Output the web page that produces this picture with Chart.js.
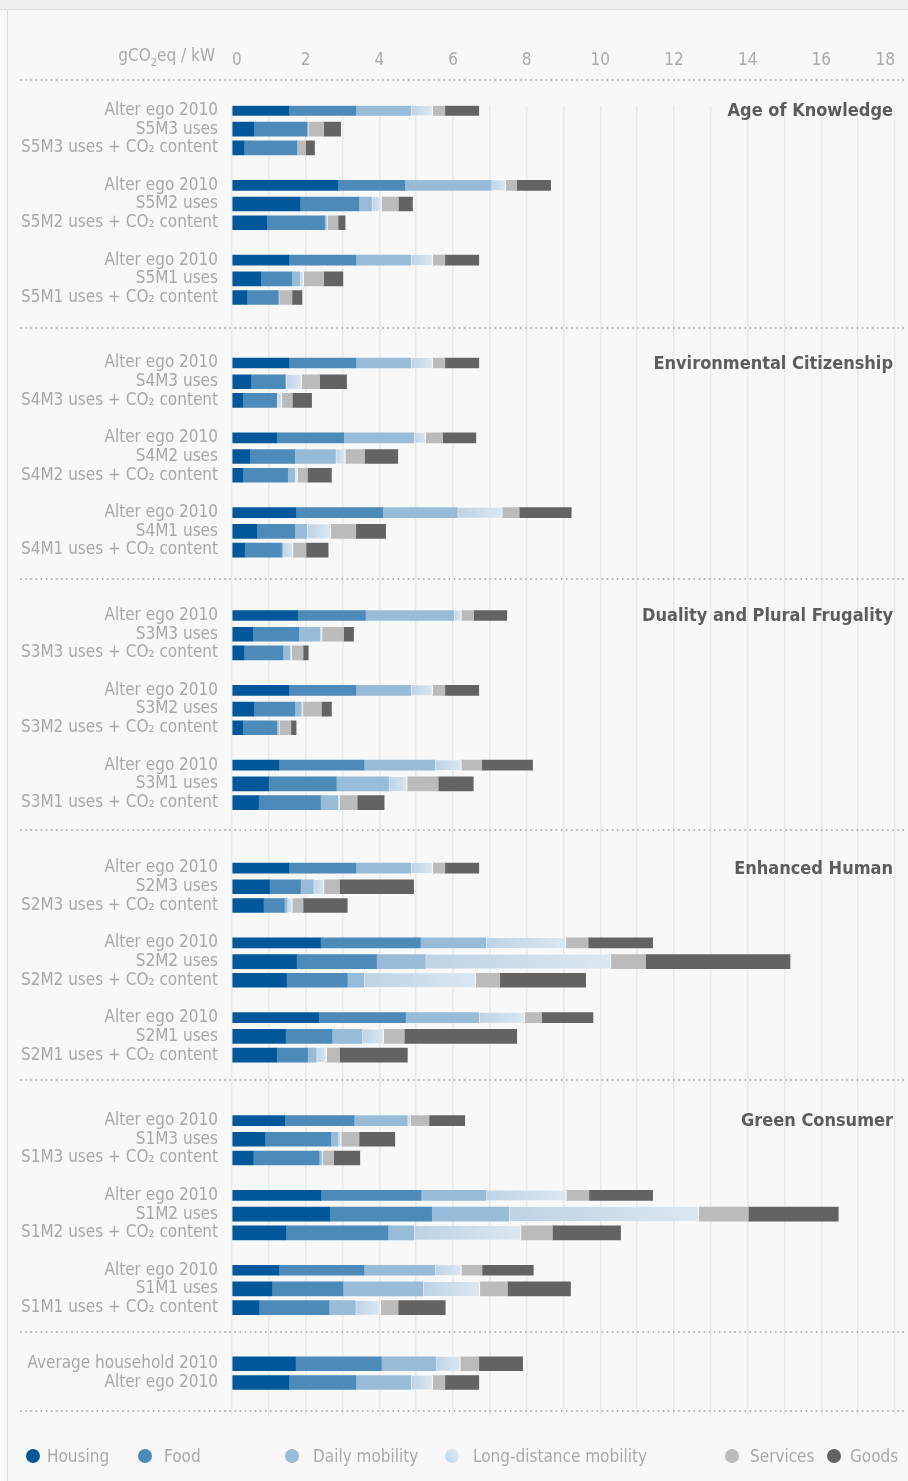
<!DOCTYPE html>
<html>
<head>
<meta charset="utf-8">
<script src="https://cdn.jsdelivr.net/npm/chart.js@4.4.1/dist/chart.umd.min.js"></script>
<style>
html,body{margin:0;padding:0;background:#f8f8f8;}
#wrap{position:relative;width:908px;height:1481px;overflow:hidden;background:#f8f8f8;}
#topband{position:absolute;left:0;top:0;width:908px;height:9px;background:#efefef;border-bottom:1px solid #dcdcdc;}
#leftline{position:absolute;left:7px;top:10px;width:1px;height:1471px;background:#dcdcdc;}
canvas{position:absolute;left:0;top:0;}
.lg{position:absolute;height:22px;line-height:22px;font-size:17px;color:#a9a9a9;white-space:nowrap;}
.dot{position:absolute;width:14px;height:14px;border-radius:50%;}
</style>
</head>
<body>
<div id="wrap">
  <div id="topband"></div>
  <div id="leftline"></div>
  <canvas id="c" width="908" height="1481"></canvas>
  <div id="legend"></div>
</div>
<script>
// ---------- DATA ----------
const categories = [
  'Alter ego 2010','S5M3 uses','S5M3 uses + CO\u2082 content',
  'Alter ego 2010','S5M2 uses','S5M2 uses + CO\u2082 content',
  'Alter ego 2010','S5M1 uses','S5M1 uses + CO\u2082 content',
  'Alter ego 2010','S4M3 uses','S4M3 uses + CO\u2082 content',
  'Alter ego 2010','S4M2 uses','S4M2 uses + CO\u2082 content',
  'Alter ego 2010','S4M1 uses','S4M1 uses + CO\u2082 content',
  'Alter ego 2010','S3M3 uses','S3M3 uses + CO\u2082 content',
  'Alter ego 2010','S3M2 uses','S3M2 uses + CO\u2082 content',
  'Alter ego 2010','S3M1 uses','S3M1 uses + CO\u2082 content',
  'Alter ego 2010','S2M3 uses','S2M3 uses + CO\u2082 content',
  'Alter ego 2010','S2M2 uses','S2M2 uses + CO\u2082 content',
  'Alter ego 2010','S2M1 uses','S2M1 uses + CO\u2082 content',
  'Alter ego 2010','S1M3 uses','S1M3 uses + CO\u2082 content',
  'Alter ego 2010','S1M2 uses','S1M2 uses + CO\u2082 content',
  'Alter ego 2010','S1M1 uses','S1M1 uses + CO\u2082 content',
  'Average household 2010','Alter ego 2010'
];
const housing = [
  1.54,0.59,0.32, 2.87,1.84,0.94, 1.54,0.78,0.40,
  1.54,0.51,0.29, 1.21,0.48,0.29, 1.73,0.67,0.34,
  1.78,0.56,0.32, 1.54,0.59,0.29, 1.27,0.99,0.72,
  1.54,1.02,0.85, 2.40,1.75,1.48, 2.35,1.45,1.21,
  1.43,0.89,0.57, 2.41,2.65,1.46, 1.27,1.08,0.73,
  1.72,1.54
];
const food = [
  1.82,1.44,1.44, 1.82,1.60,1.57, 1.82,0.84,0.85,
  1.82,0.93,0.92, 1.82,1.22,1.22, 2.36,1.03,1.00,
  1.84,1.25,1.06, 1.82,1.11,0.92, 2.31,1.84,1.68,
  1.82,0.84,0.57, 2.71,2.17,1.65, 2.36,1.26,0.84,
  1.88,1.79,1.79, 2.72,2.77,2.77, 2.31,1.93,1.90,
  2.33,1.82
];
const dailyMobility = [
  1.49,0.03,0.01, 2.35,0.35,0.05, 1.49,0.22,0.03,
  1.49,0.02,0.01, 1.90,1.11,0.19, 2.03,0.33,0.05,
  2.40,0.58,0.19, 1.49,0.18,0.05, 1.93,1.42,0.47,
  1.49,0.35,0.08, 1.78,1.33,0.45, 1.99,0.82,0.24,
  1.45,0.20,0.07, 1.77,2.09,0.70, 1.93,2.17,0.72,
  1.49,1.49
];
const longDistanceMobility = [
  0.60,0.02,0.01, 0.39,0.27,0.04, 0.60,0.11,0.02,
  0.60,0.43,0.14, 0.33,0.27,0.08, 1.22,0.65,0.27,
  0.21,0.06,0.05, 0.60,0.05,0.03, 0.72,0.51,0.05,
  0.60,0.29,0.14, 2.18,5.04,3.04, 1.25,0.59,0.28,
  0.09,0.09,0.04, 2.18,5.16,2.92, 0.72,1.55,0.69,
  0.66,0.60
];
const services = [
  0.33,0.41,0.22, 0.30,0.46,0.28, 0.33,0.54,0.33,
  0.33,0.49,0.28, 0.46,0.52,0.27, 0.46,0.68,0.35,
  0.33,0.58,0.31, 0.33,0.50,0.31, 0.55,0.84,0.48,
  0.33,0.42,0.29, 0.60,0.94,0.65, 0.46,0.56,0.35,
  0.50,0.48,0.29, 0.61,1.35,0.85, 0.56,0.75,0.47,
  0.50,0.33
];
const goods = [
  0.92,0.46,0.24, 0.92,0.38,0.19, 0.92,0.52,0.27,
  0.92,0.73,0.52, 0.90,0.90,0.65, 1.41,0.81,0.60,
  0.90,0.27,0.14, 0.92,0.27,0.14, 1.38,0.95,0.73,
  0.92,2.01,1.20, 1.75,3.92,2.33, 1.39,3.05,1.84,
  0.97,0.97,0.71, 1.73,2.44,1.85, 1.39,1.71,1.28,
  1.19,0.92
];
const sectionTitles = ['Age of Knowledge','Environmental Citizenship','Duality and Plural Frugality','Enhanced Human','Green Consumer'];
const xTickLabels = [0,2,4,6,8,10,12,14,16,18];
const unitLabel = ['gCO','2','eq / kW'];
const legendLabels = ['Housing','Food','Daily mobility','Long-distance mobility','Services','Goods'];

// ---------- LAYOUT / STYLE ----------
const FONT = "'Liberation Sans Narrow','DejaVu Sans Condensed','Roboto',sans-serif";
const COLORS = ['#00589b','#4b8ab9','#98bbd7','#c9dcec','#bbbbbb','#636363'];
const TOTAL_SLOTS = 140;
const TOP = 105.8;
function slotOf(i){
  if (i < 45){ const s=Math.floor(i/9), g=Math.floor((i%9)/3), r=i%3; return 27*s+8*g+2*r; }
  return i===45 ? 134 : 136;
}
const slotLabels = new Array(TOTAL_SLOTS).fill('');
const rowOfSlot = new Array(TOTAL_SLOTS).fill(null);
categories.forEach((c,i)=>{ slotLabels[slotOf(i)] = c; rowOfSlot[slotOf(i)] = i; });
const isThin = categories.map((c,i)=> i<45 && c.startsWith('Alter ego'));
const separatorSlots = [-3.3, 23.25, 50.1, 76.9, 103.7, 130.6, 139.05];

const series = [housing, food, dailyMobility, longDistanceMobility, services, goods];

function ldGradient(c){
  if (c.type !== 'data') return COLORS[3];
  const i = rowOfSlot[c.dataIndex];
  const xs = c.chart.scales && c.chart.scales.x;
  if (i == null || !xs) return COLORS[3];
  const st = housing[i]+food[i]+dailyMobility[i];
  const x0 = xs.getPixelForValue(st), x1 = xs.getPixelForValue(st+longDistanceMobility[i]);
  if (!isFinite(x0) || !isFinite(x1) || x1-x0 < 0.5) return COLORS[3];
  const g = c.chart.ctx.createLinearGradient(x0,0,x1,0);
  g.addColorStop(0,'#bcd3e6'); g.addColorStop(1,'#dce7f0');
  return g;
}

const datasets = [];
series.forEach((vals,k)=>{
  ['thin','thick'].forEach(kind=>{
    const data = new Array(TOTAL_SLOTS).fill(null);
    vals.forEach((v,i)=>{ if ((kind==='thin') === isThin[i]) data[slotOf(i)] = v; });
    const ds = {
      label: legendLabels[k], data, stack: kind, grouped:false,
      barThickness: kind==='thin' ? 10 : 14,
      backgroundColor: k===3 ? ldGradient : COLORS[k],
      borderWidth: 0, skipNull:true
    };
    if (k===3){ ds.borderWidth = {left:1.2,right:1.2,top:0,bottom:0}; ds.borderColor='#f6f8fa'; ds.borderSkipped=false; }
    datasets.push(ds);
  });
});

const overlay = {
  id:'overlay',
  afterDraw(chart){
    const ctx = chart.ctx, ys = chart.scales.y;
    ctx.save();
    ctx.strokeStyle = '#b1b1b1'; ctx.lineWidth = 2; ctx.lineCap = 'round'; ctx.setLineDash([0,5.1]);
    separatorSlots.forEach(s=>{
      const py = Math.round(ys.getPixelForValue(s));
      ctx.beginPath(); ctx.moveTo(21,py); ctx.lineTo(905,py); ctx.stroke();
    });
    ctx.setLineDash([]);
    ctx.fillStyle = '#5c5c5c'; ctx.font = 'bold 18px '+FONT; ctx.textAlign='right'; ctx.textBaseline='middle';
    sectionTitles.forEach((t,s)=> ctx.fillText(t, 893, ys.getPixelForValue(27*s)+1));
    // unit label
    ctx.fillStyle = '#a9a9a9'; ctx.textAlign='left'; ctx.textBaseline='middle';
    const big = '17px '+FONT, small = '11px '+FONT;
    ctx.font = big; const w1 = ctx.measureText(unitLabel[0]).width, w3 = ctx.measureText(unitLabel[2]).width;
    ctx.font = small; const w2 = ctx.measureText(unitLabel[1]).width;
    let x = 215 - (w1+w2+w3); const y = 57;
    ctx.font = big; ctx.fillText(unitLabel[0], x, y); x += w1;
    ctx.font = small; ctx.fillText(unitLabel[1], x, y+6); x += w2;
    ctx.font = big; ctx.fillText(unitLabel[2], x, y);
    ctx.restore();
  }
};

new Chart(document.getElementById('c'), {
  type:'bar',
  data:{ labels: slotLabels, datasets },
  options:{
    responsive:false, animation:false, indexAxis:'y',
    layout:{autoPadding:false, padding:{left:0,right:13,top:0,bottom:1481-1415.2}},
    plugins:{legend:{display:false}, tooltip:{enabled:false}},
    scales:{
      x:{ position:'top', min:0, max:18, stacked:true, offset:false,
          ticks:{ stepSize:1, autoSkip:false, maxRotation:0, padding:35, color:'#aaaaaa', align:'inner',
                  font:{family:FONT,size:17},
                  callback:(v)=> xTickLabels.includes(v) ? String(v) : '' },
          grid:{ color:'#e9e9e9', lineWidth:1.5, drawTicks:false, offset:false },
          border:{ display:false },
          afterFit:(s)=>{ s.height = TOP; s.paddingLeft = 0; s.paddingRight = 0; } },
      y:{ type:'category', stacked:true, offset:true,
          ticks:{ autoSkip:false, padding:14, color:'#a8a8a8', font:{family:FONT,size:17} },
          grid:{ display:false, drawTicks:false }, border:{ display:false },
          afterFit:(s)=>{ s.width = 232; s.paddingTop = 0; s.paddingBottom = 0; } }
    }
  },
  plugins:[overlay]
});

// legend (HTML)
const legendPos = [[33,47],[145,164],[292,313],[452,473],[732,750],[834,850]];
const lg = document.getElementById('legend');
legendLabels.forEach((t,k)=>{
  const d = document.createElement('div'); d.className='dot';
  d.style.left = (legendPos[k][0]-7)+'px'; d.style.top = (1456-7)+'px';
  d.style.background = k===3 ? 'linear-gradient(45deg,#bcd3e6,#e3ecf4)' : COLORS[k];
  lg.appendChild(d);
  const s = document.createElement('div'); s.className='lg'; s.textContent = t;
  s.style.left = legendPos[k][1]+'px'; s.style.top = (1456-11)+'px'; s.style.fontFamily = FONT;
  lg.appendChild(s);
});
</script>
</body>
</html>
